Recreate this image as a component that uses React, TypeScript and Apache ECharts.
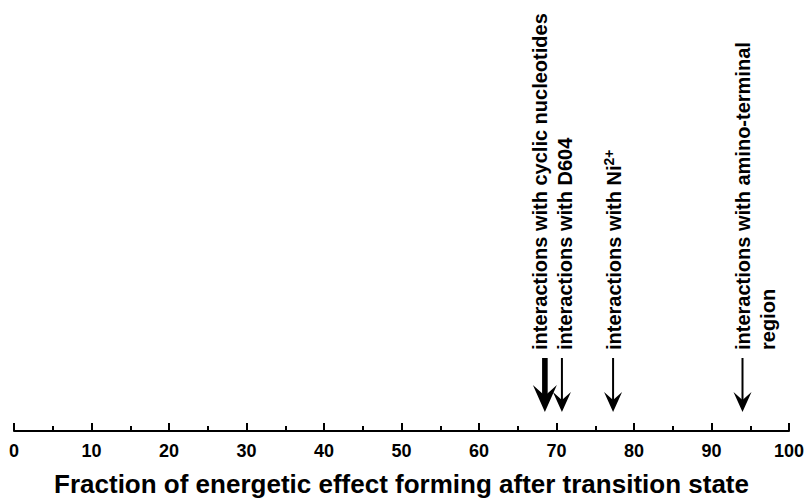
import React, { useEffect, useRef } from "react";
import * as echarts from "echarts";

// Positions (percent) where each interaction's energetic effect forms
const arrowValues = [68.5, 70.7, 77.3, 94.0];
// Annotation text for each arrow (rich-text markup for superscripts)
const arrowLabels = [
  "interactions with cyclic nucleotides",
  "interactions with D604",
  "interactions with Ni{sup|2+}",
  "interactions with amino-terminal\nregion",
];
const axisMin = 0;
const axisMax = 100;
const axisInterval = 10;
const axisTitle = "Fraction of energetic effect forming after transition state";

// Drawing styles for each arrow: shaft width, head width, head height
const arrowShapes = [
  { shaft: 5.6, headW: 24, headH: 27 },
  { shaft: 2, headW: 18, headH: 20 },
  { shaft: 2, headW: 18, headH: 20 },
  { shaft: 2, headW: 18, headH: 20 },
];
// Horizontal nudge (px) of each text column relative to its arrow
const labelShift = [-4.8, 2.9, 1.4, 0.2];

const FONT = "'Liberation Sans', Arial, Helvetica, sans-serif";
const LINE_H = 25;

export default function App() {
  const ref = useRef<HTMLDivElement>(null);

  useEffect(() => {
    if (!ref.current) return;
    const chart = echarts.init(ref.current, undefined, { renderer: "svg" });

    const renderItem = (params: any, api: any) => {
      const i = params.dataIndex;
      const v = api.value(0);
      const [px, py] = api.coord([v, 0]);
      const s = arrowShapes[i];
      const tip = py - 19;
      const top = py - 73;
      const headBase = tip - s.headH;
      const notch = tip - s.headH * 0.6;
      return {
        type: "group",
        children: [
          {
            type: "rect",
            shape: { x: px - s.shaft / 2, y: top, width: s.shaft, height: notch - top + 2 },
            style: { fill: "#000" },
          },
          {
            type: "polygon",
            shape: {
              points: [
                [px, tip],
                [px - s.headW / 2, headBase],
                [px, notch],
                [px + s.headW / 2, headBase],
              ],
            },
            style: { fill: "#000" },
          },
          {
            type: "text",
            x: px + labelShift[i] - LINE_H / 2,
            y: py - 81,
            rotation: Math.PI / 2,
            style: {
              text: arrowLabels[i],
              fontFamily: FONT,
              fontWeight: "bold",
              fontSize: 20,
              lineHeight: LINE_H,
              fill: "#000",
              align: "left",
              verticalAlign: "top",
              rich: {
                sup: {
                  fontFamily: FONT,
                  fontWeight: "bold",
                  fontSize: 14,
                  lineHeight: 14,
                  verticalAlign: "top",
                  fill: "#000",
                },
              },
            },
          },
        ],
      };
    };

    chart.setOption({
      animation: false,
      backgroundColor: "#fff",
      grid: {
        left: 14,
        right: 17,
        top: 0,
        bottom: 68,
        containLabel: false,
        outerBoundsMode: "none",
      },
      xAxis: {
        type: "value",
        min: axisMin,
        max: axisMax,
        interval: axisInterval,
        splitLine: { show: false },
        axisLine: { show: true, lineStyle: { color: "#000", width: 2 } },
        axisTick: { show: true, inside: true, length: 8, lineStyle: { color: "#000", width: 2 } },
        minorTick: { show: true, splitNumber: 2, length: 5, lineStyle: { color: "#000", width: 2 } },
        minorSplitLine: { show: false },
        axisLabel: {
          show: true,
          margin: 11,
          color: "#000",
          fontFamily: FONT,
          fontWeight: "bold",
          fontSize: 18,
          showMinLabel: true,
          showMaxLabel: true,
        },
        name: axisTitle,
        nameLocation: "middle",
        nameGap: 40,
        nameTextStyle: { color: "#000", fontFamily: FONT, fontWeight: "bold", fontSize: 26 },
      },
      yAxis: { type: "value", min: 0, max: 1, show: false },
      series: [
        {
          type: "custom",
          renderItem,
          clip: false,
          silent: true,
          data: arrowValues.map((v) => [v, 0]),
        },
      ],
    });

    return () => chart.dispose();
  }, []);

  return (
    <div
      ref={ref}
      style={{ position: "fixed", left: 0, top: 0, width: 806, height: 499, background: "#fff" }}
    />
  );
}
